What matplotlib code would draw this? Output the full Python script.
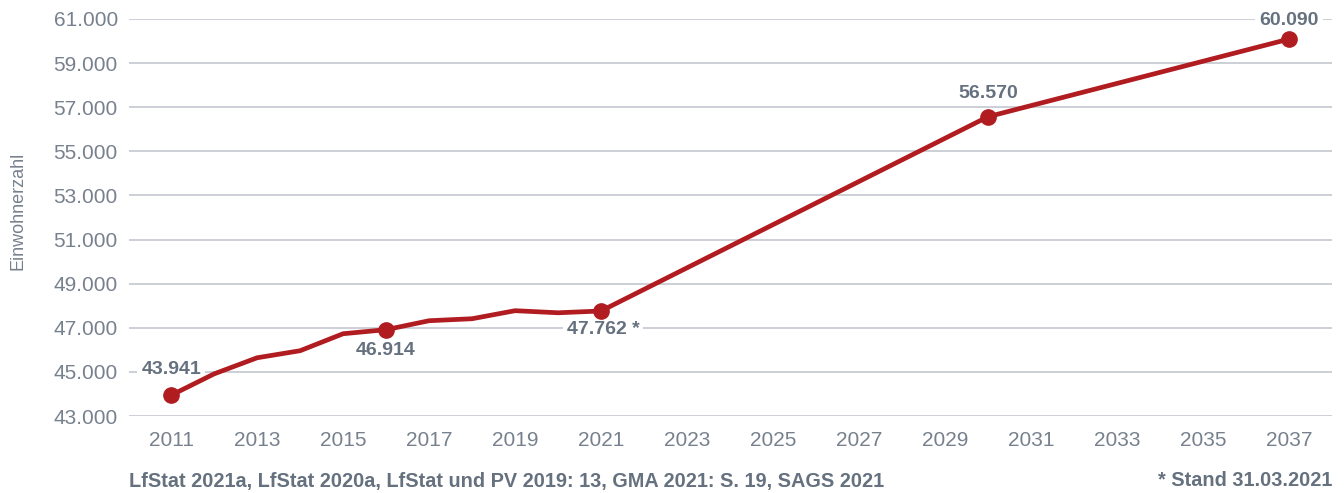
import matplotlib
matplotlib.use("Agg")
import matplotlib.pyplot as plt

years = [2011, 2012, 2013, 2014, 2015, 2016, 2017, 2018, 2019, 2020, 2021, 2030, 2037]
values = [43941, 44910, 45640, 45960, 46730, 46914, 47320, 47410, 47775, 47680, 47762, 56570, 60090]
marker_years = [2011, 2016, 2021, 2030, 2037]
marker_values = [43941, 46914, 47762, 56570, 60090]
marker_labels = ["43.941", "46.914", "47.762 *", "56.570", "60.090"]
yticks = [43000, 45000, 47000, 49000, 51000, 53000, 55000, 57000, 59000, 61000]
ytick_labels = ["43.000", "45.000", "47.000", "49.000", "51.000", "53.000", "55.000", "57.000", "59.000", "61.000"]
xticks = list(range(2011, 2038, 2))

plt.rcParams['font.family'] = ['Liberation Sans', 'DejaVu Sans']
TXT = '#66717f'
TICK = '#77818e'
RED = '#b01c20'
GRID = '#c3c8d0'

fig = plt.figure(figsize=(13.44, 4.93), dpi=100)
ax = fig.add_axes([129/1344, 1-416/493, 1203/1344, 397/493])

ax.plot(years, values, color=RED, lw=3.4, solid_joinstyle='round', zorder=3, clip_on=False)
ax.plot(marker_years, marker_values, 'o', color=RED, ms=11, zorder=4, clip_on=False)

offsets = [(0, 26), (0, -21), (2, -19), (0, 23), (0, 19)]
bb = dict(boxstyle='square,pad=0.2', fc='white', ec='none')
for x, y, lab, (dx, dy) in zip(marker_years, marker_values, marker_labels, offsets):
    ax.annotate(lab, (x, y), xytext=(dx, dy), textcoords='offset pixels',
                ha='center', va='center', fontsize=14, fontweight='bold',
                color=TXT, bbox=bb, zorder=2.5)

ax.set_xlim(2010.02, 2038.0)
ax.set_ylim(43000, 61000)
ax.set_yticks(yticks)
ax.set_yticklabels(ytick_labels)
ax.set_xticks(xticks)
ax.set_xticklabels([str(t) for t in xticks])
ax.tick_params(axis='both', length=0, labelsize=15, labelcolor=TICK)
ax.tick_params(axis='y', pad=8)
ax.tick_params(axis='x', pad=11)
ax.grid(axis='y', color=GRID, lw=1.2, zorder=0)
ax.grid(axis='x', visible=False)
for s in ax.spines.values():
    s.set_visible(False)

fig.text(18/1344, 1-211/493, 'Einwohnerzahl', rotation=90, ha='center', va='center',
         fontsize=13, color=TICK)
fig.text(129/1344, 1-481/493, 'LfStat 2021a, LfStat 2020a, LfStat und PV 2019: 13, GMA 2021: S. 19, SAGS 2021',
         ha='left', va='center', fontsize=14.3, fontweight='bold', color=TXT)
fig.text(1332/1344, 1-481/493, '* Stand 31.03.2021', ha='right', va='center',
         fontsize=14.3, fontweight='bold', color=TXT)

fig.savefig('out.png', dpi=100)
